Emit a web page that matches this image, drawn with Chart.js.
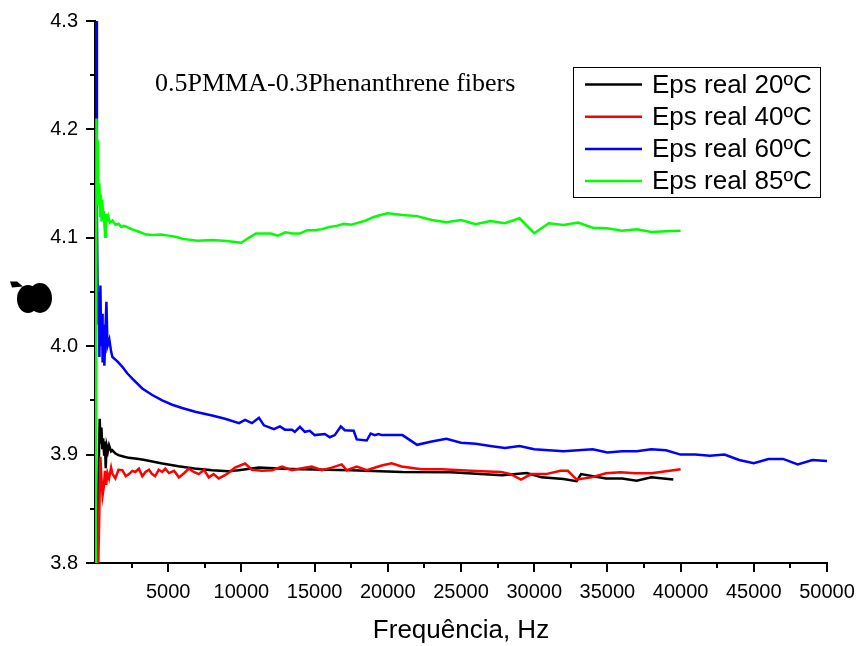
<!DOCTYPE html>
<html><head><meta charset="utf-8">
<script src="https://cdn.jsdelivr.net/npm/chart.js@4/dist/chart.umd.min.js"></script>
<style>html,body{margin:0;padding:0;background:#fff;}canvas{display:block;}</style>
</head><body>
<canvas id="c" width="859" height="646"></canvas>
<script>
// ---- data ----
const seriesLabels = ['Eps real 20ºC', 'Eps real 40ºC', 'Eps real 60ºC', 'Eps real 85ºC'];
const seriesColors = ['#000000', '#ff0000', '#0000ff', '#00ff00'];
const chartTitle = '0.5PMMA-0.3Phenanthrene fibers';
const xAxisTitle = 'Frequência, Hz';

const freq20 = [100,320,380,440,500,560,620,680,730,800,880,960,1100,1185,1400,1600,2000,2300,3000,3400,4600,5700,6800,8000,9100,9800,11200,12800,14100,17500,21000,24300,27800,29500,30500,32000,32900,33200,34900,36000,37000,38000,39500];
const eps20 = [3.78,3.933,3.91,3.925,3.905,3.915,3.90,3.912,3.8875,3.908,3.903,3.9087,3.903,3.904,3.901,3.8995,3.898,3.897,3.896,3.895,3.8918,3.8893,3.8872,3.8856,3.8847,3.8856,3.888,3.887,3.8865,3.8855,3.884,3.8838,3.881,3.883,3.879,3.8775,3.8755,3.882,3.878,3.878,3.876,3.879,3.877];

const freq40 = [80,370,450,520,600,680,760,850,960,1100,1185,1390,1600,1870,2100,2320,2550,2750,3000,3230,3450,3690,3900,4110,4350,4590,4800,5050,5400,5730,6100,6410,6750,7090,7450,7770,8100,8450,8880,9200,9560,10250,10720,11400,12100,12770,13450,14130,14810,15490,16170,16850,17200,17880,18560,19580,20260,20940,22300,23670,25000,26400,27750,28400,29100,29800,30800,31800,32300,32900,33900,34900,35900,36900,38000,39000,40000];
const eps40 = [3.70,3.898,3.875,3.8625,3.87,3.885,3.872,3.883,3.878,3.888,3.8825,3.878,3.886,3.8856,3.880,3.882,3.885,3.884,3.887,3.880,3.884,3.886,3.882,3.880,3.886,3.884,3.887,3.883,3.885,3.879,3.883,3.887,3.884,3.882,3.886,3.879,3.882,3.878,3.881,3.884,3.888,3.8918,3.886,3.885,3.8856,3.889,3.8856,3.8875,3.889,3.8856,3.888,3.891,3.8856,3.889,3.8856,3.890,3.892,3.889,3.8865,3.8865,3.8856,3.8847,3.884,3.882,3.877,3.882,3.882,3.885,3.885,3.877,3.879,3.8827,3.8837,3.8827,3.8827,3.8847,3.8865];

const freq60 = [80,130,200,250,300,370,420,480,520,580,640,700,780,850,980,1100,1190,1530,1870,2200,2550,3230,3910,4590,5270,5950,6840,8000,8880,9840,10250,10720,11200,11540,12220,12630,12970,13450,13650,14000,14330,14670,15010,15700,16040,16380,16790,17060,17670,17880,18560,18830,19100,19370,19580,21000,22000,23000,24000,25000,26000,27000,28000,29000,30000,31000,32000,33000,34000,35000,36000,37000,38000,39000,40000,41000,42000,43000,44000,45000,46000,47000,48000,49000,50000];
const eps60 = [4.40,4.12,4.02,4.05,3.99,4.056,4.00,4.03,3.985,4.02,3.982,4.01,4.041,4.00,4.006,3.995,3.990,3.986,3.981,3.975,3.970,3.961,3.955,3.950,3.946,3.943,3.9395,3.936,3.933,3.929,3.932,3.929,3.934,3.927,3.9235,3.926,3.923,3.923,3.921,3.9256,3.921,3.922,3.918,3.919,3.916,3.918,3.926,3.9225,3.922,3.914,3.913,3.9195,3.918,3.919,3.918,3.918,3.909,3.912,3.9145,3.911,3.910,3.908,3.906,3.908,3.905,3.904,3.903,3.904,3.905,3.902,3.903,3.903,3.905,3.904,3.900,3.900,3.899,3.900,3.895,3.892,3.896,3.896,3.891,3.895,3.894];

const freq85 = [60,100,150,200,250,300,350,400,450,500,550,600,650,700,750,800,900,1000,1200,1400,1600,1800,2000,2500,3000,3500,4000,4500,5000,5500,6000,7000,8000,9000,10000,10500,11000,12000,12500,13000,13500,14000,14500,15000,15500,16000,16500,17000,17500,18000,18500,19000,19500,20000,21000,22000,23000,24000,25000,26000,27000,28000,29000,30000,31000,32000,33000,34000,35000,36000,37000,38000,39000,40000];
const eps85 = [3.70,4.21,4.17,4.19,4.13,4.15,4.12,4.14,4.115,4.135,4.12,4.125,4.11,4.101,4.122,4.116,4.12,4.114,4.116,4.112,4.113,4.110,4.111,4.108,4.1056,4.103,4.1026,4.103,4.102,4.101,4.099,4.0973,4.098,4.097,4.0955,4.100,4.104,4.104,4.102,4.105,4.104,4.104,4.107,4.107,4.108,4.110,4.111,4.113,4.112,4.114,4.116,4.119,4.121,4.1226,4.121,4.120,4.1164,4.1143,4.1164,4.1125,4.1155,4.1134,4.118,4.1042,4.1134,4.1118,4.114,4.1093,4.1088,4.1066,4.1078,4.1054,4.106,4.1066];

const xMin = 0, xMax = 50000, xStep = 5000;
const yMin = 3.8, yMax = 4.3, yStep = 0.1;

function pts(f, e) { return f.map((x, i) => ({ x: x, y: e[i] })); }
const allFreq = [freq20, freq40, freq60, freq85];
const allEps = [eps20, eps40, eps60, eps85];

const decor = {
  id: 'decor',
  afterDraw(chart) {
    const ctx = chart.ctx, a = chart.chartArea, xs = chart.scales.x, ys = chart.scales.y;
    ctx.save();
    ctx.strokeStyle = '#000'; ctx.lineWidth = 2;
    for (let i = 1; i <= 20; i++) {
      const v = xMin + i * xStep / 2;
      const px = Math.round(xs.getPixelForValue(v));
      ctx.beginPath(); ctx.moveTo(px, a.bottom); ctx.lineTo(px, a.bottom + (i % 2 === 0 ? 9 : 5)); ctx.stroke();
    }
    for (let i = 0; i <= 10; i++) {
      const v = yMin + i * yStep / 2;
      const py = Math.round(ys.getPixelForValue(v));
      ctx.beginPath(); ctx.moveTo(a.left, py); ctx.lineTo(a.left - (i % 2 === 0 ? 9 : 5), py); ctx.stroke();
    }
    ctx.fillStyle = '#000';
    ctx.font = '26px "Liberation Serif"';
    ctx.textBaseline = 'alphabetic'; ctx.textAlign = 'left';
    ctx.fillText(chartTitle, a.left + 60, a.top + 70);
    const lx = a.right - 254, ly = a.top + 46, lw = 247, lh = 130;
    ctx.lineWidth = 1;
    ctx.strokeRect(lx + 0.5, ly + 0.5, lw, lh);
    ctx.font = '26px "Liberation Sans"';
    ctx.textBaseline = 'middle';
    for (let i = 0; i < seriesLabels.length; i++) {
      const yy = ly + 17.5 + i * 32.2;
      ctx.strokeStyle = seriesColors[i]; ctx.lineWidth = 2.5;
      ctx.beginPath(); ctx.moveTo(lx + 12, yy); ctx.lineTo(lx + 69, yy); ctx.stroke();
      ctx.fillStyle = '#000';
      ctx.fillText(seriesLabels[i], lx + 79, yy + 1);
    }
    ctx.fillStyle = '#000';
    ctx.beginPath(); ctx.ellipse(a.left - 67, a.top + 278, 11, 14, 0, 0, Math.PI * 2); ctx.fill();
    ctx.beginPath(); ctx.ellipse(a.left - 55, a.top + 277, 12, 15, 0, 0, Math.PI * 2); ctx.fill();
    ctx.beginPath();
    ctx.moveTo(a.left - 85, a.top + 260.5); ctx.lineTo(a.left - 78, a.top + 260.5);
    ctx.lineTo(a.left - 72, a.top + 265.5); ctx.lineTo(a.left - 83, a.top + 266.5); ctx.closePath(); ctx.fill();
    ctx.restore();
  }
};

const tickFont = { family: 'Liberation Sans', size: 20 };

new Chart(document.getElementById('c'), {
  type: 'line',
  data: {
    datasets: seriesLabels.map((lab, i) => ({
      label: lab,
      data: pts(allFreq[i], allEps[i]),
      borderColor: seriesColors[i],
      backgroundColor: seriesColors[i],
      borderWidth: 2.5,
      pointRadius: 0,
      tension: 0,
      fill: false,
      order: 3 - i
    }))
  },
  options: {
    responsive: false,
    animation: false,
    devicePixelRatio: 1,
    layout: { padding: { left: 0, top: 21, right: 32, bottom: 0 } },
    plugins: { legend: { display: false }, tooltip: { enabled: false }, title: { display: false } },
    scales: {
      x: {
        type: 'linear', min: xMin, max: xMax,
        afterFit: s => { s.height = 83; s.paddingRight = 20; s.paddingLeft = 0; },
        ticks: { stepSize: xStep, autoSkip: false, maxRotation: 0, color: '#000', font: tickFont, padding: 8,
                 callback: v => (v === 0 ? '' : String(v)) },
        grid: { display: true, drawOnChartArea: false, color: 'rgba(0,0,0,0)', tickLength: 9 },
        border: { display: true, color: '#000', width: 2 },
        title: { display: true, text: xAxisTitle, color: '#000', font: { family: 'Liberation Sans', size: 26 }, padding: { top: 0, bottom: 0 } }
      },
      y: {
        type: 'linear', min: yMin, max: yMax,
        afterFit: s => { s.width = 95; },
        ticks: { stepSize: yStep, color: '#000', font: tickFont, padding: 8,
                 callback: v => Number(v).toFixed(1) },
        grid: { display: true, drawOnChartArea: false, color: 'rgba(0,0,0,0)', tickLength: 9 },
        border: { display: true, color: '#000', width: 2 }
      }
    }
  },
  plugins: [decor]
});
</script>
</body></html>
